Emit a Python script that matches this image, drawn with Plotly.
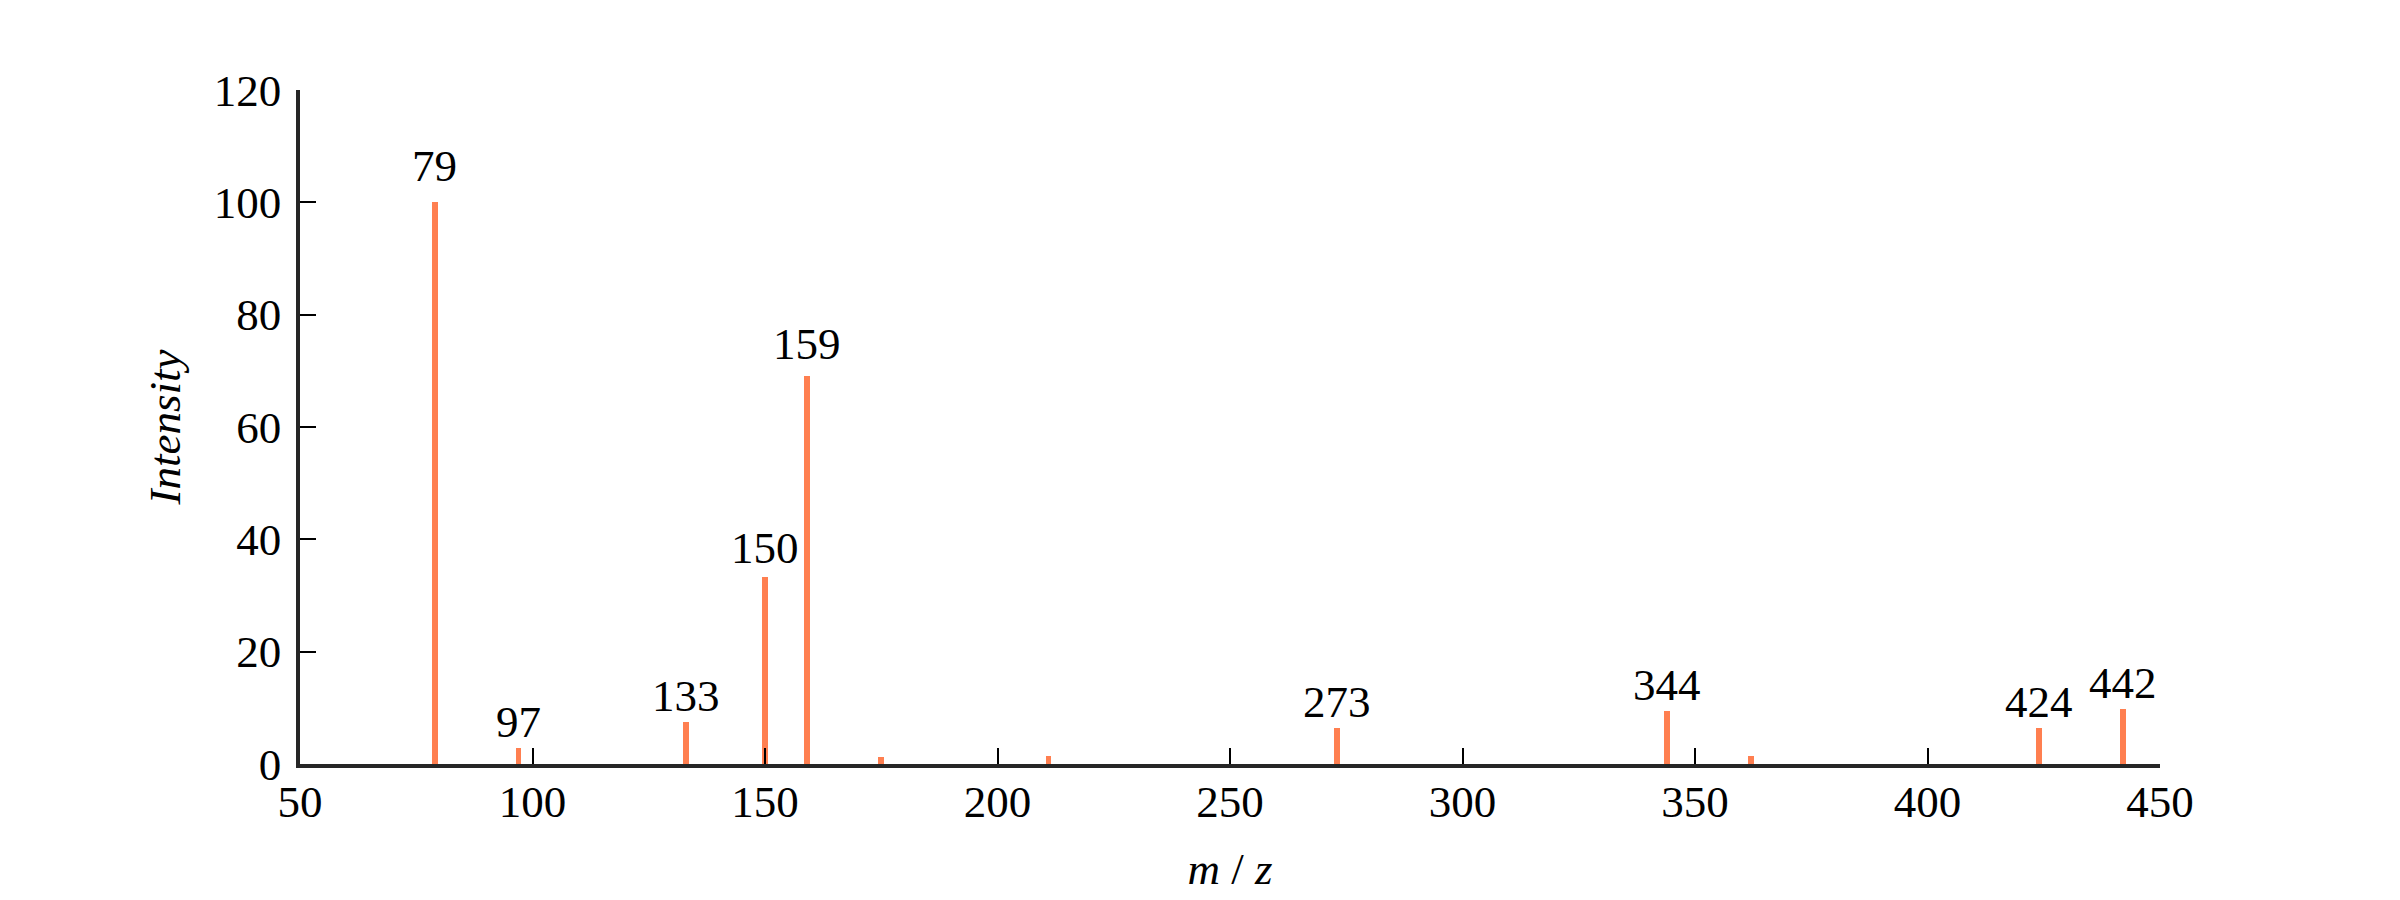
import plotly.graph_objects as go

mz = [79, 97, 133, 150, 159, 175, 211, 273, 344, 362, 424, 442]
intensity = [100, 2.9, 7.5, 33.3, 69.0, 1.25, 1.4, 6.4, 9.4, 1.4, 6.4, 9.8]
labeled = [79, 97, 133, 150, 159, 273, 344, 424, 442]
x_ticks = [50, 100, 150, 200, 250, 300, 350, 400, 450]
y_ticks = [0, 20, 40, 60, 80, 100, 120]

FONT = "Liberation Serif"
AX = "#262626"
FS = 45

fig = go.Figure()
fig.add_trace(go.Bar(x=mz, y=intensity, width=1.2, marker=dict(color="#FF7F50", line=dict(width=0)),
                     showlegend=False, hoverinfo="x+y"))

for m, v in zip(mz, intensity):
    if m in labeled:
        fig.add_annotation(x=m, y=v * 1.02, text=str(m), showarrow=False, xanchor="center", yanchor="bottom",
                           yshift=-2, font=dict(family=FONT, size=FS, color="black"))

fig.update_layout(
    width=2400, height=900,
    margin=dict(l=292, r=248, t=82, b=144, autoexpand=False),
    plot_bgcolor="white", paper_bgcolor="white",
    font=dict(family=FONT, size=FS, color="black"),
    bargap=0,
)
fig.update_xaxes(range=[50, 450], tickvals=x_ticks, ticktext=[str(t) for t in x_ticks],
                 showgrid=False, zeroline=False, showline=True, linecolor=AX, linewidth=3.5,
                 ticks="inside", ticklen=16, tickwidth=1.5, tickcolor="black",
                 ticklabelstandoff=-5,
                 title=dict(text="<i>m</i> / <i>z</i>", standoff=28, font=dict(family=FONT, size=FS)))
fig.update_yaxes(range=[0, 120], tickvals=y_ticks, ticktext=[str(t) for t in y_ticks],
                 showgrid=False, zeroline=False, showline=True, linecolor=AX, linewidth=3.5,
                 ticks="inside", ticklen=16, tickwidth=1.5, tickcolor="black",
                 ticklabelstandoff=6,
                 title=dict(text="<i>Intensity</i>", standoff=20, font=dict(family=FONT, size=FS)))

fig.write_html("out.html")
